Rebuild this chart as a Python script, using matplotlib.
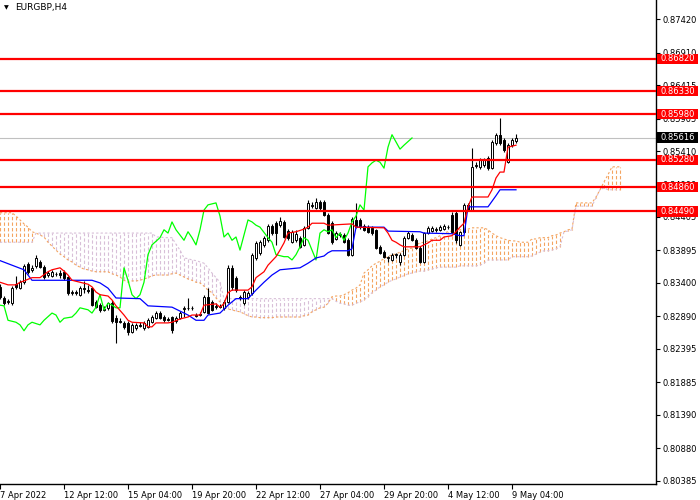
import matplotlib
matplotlib.use("Agg")
import matplotlib.pyplot as plt
from matplotlib.patches import Rectangle
from matplotlib.transforms import blended_transform_factory
import numpy as np

# ---------------- data (EURGBP, H4) ----------------
opens = [0.8334,0.8317,0.8311,0.8309,0.8338,0.8332,0.8341,0.8369,0.8360,0.8366,
         0.8372,0.8364,0.8352,0.8351,0.8354,0.8355,0.8357,0.8349,0.8325,0.8326,
         0.8322,0.8332,0.8329,0.8332,0.8311,0.8306,0.8299,0.8302,0.8309,0.8287,
         0.8282,0.8279,0.8279,0.8265,0.8271,0.8276,0.8271,0.8273,0.8280,0.8287,
         0.8294,0.8288,0.8285,0.8288,0.8282,0.8287,0.8300,0.8302,0.8302,0.8291,
         0.8291,0.8296,0.8319,0.8311,0.8303,0.8305,0.8302,0.8311,0.8363,0.8348,
         0.8319,0.8309,0.8319,0.8325,0.8378,0.8386,0.8398,0.8405,0.8427,0.8431,
         0.8428,0.8433,0.8419,0.8402,0.8405,0.8409,0.8398,0.8424,0.8457,0.8454,
         0.8463,0.8463,0.8444,0.8431,0.8407,0.8413,0.8413,0.8405,0.8383,0.8436,
         0.8436,0.8427,0.8425,0.8424,0.8421,0.8395,0.8387,0.8378,0.8375,0.8383,
         0.8372,0.8383,0.8409,0.8413,0.8405,0.8393,0.8372,0.8416,0.8419,0.8421,
         0.8421,0.8422,0.8425,0.8444,0.8447,0.8398,0.8418,0.8459,0.8451,0.8518,
         0.8517,0.8520,0.8531,0.8515,0.8553,0.8566,0.8558,0.8524,0.8550,0.8556]
highs = [0.8338,0.8320,0.8316,0.8335,0.8351,0.8344,0.8369,0.8372,0.8367,0.8383,
         0.8375,0.8367,0.8358,0.8360,0.8357,0.8360,0.8360,0.8351,0.8329,0.8329,
         0.8335,0.8343,0.8337,0.8334,0.8314,0.8309,0.8305,0.8311,0.8314,0.8291,
         0.8287,0.8282,0.8282,0.8279,0.8279,0.8280,0.8282,0.8287,0.8291,0.8297,
         0.8297,0.8291,0.8288,0.8290,0.8290,0.8297,0.8305,0.8317,0.8305,0.8294,
         0.8296,0.8322,0.8332,0.8314,0.8309,0.8308,0.8314,0.8367,0.8367,0.8351,
         0.8322,0.8329,0.8328,0.8386,0.8404,0.8405,0.8412,0.8430,0.8430,0.8434,
         0.8441,0.8436,0.8422,0.8421,0.8421,0.8412,0.8427,0.8466,0.8463,0.8469,
         0.8466,0.8466,0.8447,0.8434,0.8419,0.8418,0.8416,0.8409,0.8441,0.8462,
         0.8439,0.8430,0.8428,0.8427,0.8422,0.8398,0.8390,0.8381,0.8386,0.8386,
         0.8386,0.8412,0.8419,0.8416,0.8409,0.8396,0.8418,0.8427,0.8427,0.8425,
         0.8428,0.8430,0.8428,0.8448,0.8450,0.8419,0.8462,0.8462,0.8546,0.8524,
         0.8531,0.8531,0.8534,0.8558,0.8569,0.8591,0.8561,0.8553,0.8561,0.8567]
lows = [0.8316,0.8306,0.8308,0.8306,0.8331,0.8331,0.8338,0.8354,0.8357,0.8363,
        0.8363,0.8346,0.8349,0.8349,0.8351,0.8348,0.8344,0.8322,0.8322,0.8322,
        0.8320,0.8325,0.8325,0.8305,0.8302,0.8296,0.8297,0.8299,0.8279,0.8249,
        0.8279,0.8270,0.8261,0.8264,0.8268,0.8273,0.8268,0.8271,0.8279,0.8285,
        0.8285,0.8280,0.8282,0.8264,0.8279,0.8285,0.8288,0.8299,0.8299,0.8288,
        0.8290,0.8294,0.8293,0.8297,0.8300,0.8302,0.8299,0.8309,0.8329,0.8326,
        0.8314,0.8306,0.8316,0.8322,0.8375,0.8383,0.8395,0.8402,0.8413,0.8398,
        0.8425,0.8409,0.8405,0.8401,0.8402,0.8393,0.8396,0.8422,0.8454,0.8453,
        0.8451,0.8442,0.8415,0.8399,0.8405,0.8410,0.8401,0.8381,0.8381,0.8424,
        0.8422,0.8419,0.8416,0.8413,0.8392,0.8384,0.8378,0.8372,0.8374,0.8378,
        0.8367,0.8381,0.8407,0.8404,0.8392,0.8370,0.8370,0.8415,0.8418,0.8418,
        0.8419,0.8421,0.8422,0.8416,0.8401,0.8396,0.8416,0.8450,0.8450,0.8515,
        0.8514,0.8517,0.8512,0.8514,0.8550,0.8550,0.8540,0.8523,0.8547,0.8553]
closes = [0.8319,0.8309,0.8312,0.8332,0.8334,0.8341,0.8366,0.8357,0.8363,0.8378,
          0.8364,0.8349,0.8355,0.8357,0.8353,0.8352,0.8348,0.8325,0.8326,0.8325,
          0.8332,0.8331,0.8328,0.8306,0.8303,0.8299,0.8300,0.8309,0.8282,0.8280,
          0.8281,0.8273,0.8265,0.8276,0.8276,0.8275,0.8279,0.8283,0.8288,0.8294,
          0.8287,0.8283,0.8284,0.8268,0.8287,0.8294,0.8302,0.8301,0.8301,0.8290,
          0.8293,0.8319,0.8294,0.8299,0.8305,0.8304,0.8311,0.8363,0.8334,0.8329,
          0.8317,0.8326,0.8325,0.8383,0.8401,0.8402,0.8409,0.8427,0.8416,0.8416,
          0.8434,0.8410,0.8409,0.8418,0.8415,0.8395,0.8424,0.8462,0.8459,0.8463,
          0.8454,0.8444,0.8416,0.8402,0.8416,0.8415,0.8402,0.8383,0.8438,0.8425,
          0.8425,0.8421,0.8418,0.8416,0.8393,0.8386,0.8380,0.8379,0.8383,0.8384,
          0.8383,0.8409,0.8416,0.8405,0.8393,0.8372,0.8416,0.8424,0.8424,0.8422,
          0.8425,0.8427,0.8426,0.8418,0.8405,0.8418,0.8459,0.8451,0.8517,0.8520,
          0.8527,0.8527,0.8515,0.8555,0.8566,0.8553,0.8543,0.8550,0.8558,0.85616]

# Tenkan-sen (red) read at its turning points: bar index, price
tenkan_bar = [0,2,4,5,6,8,10,12,13,15,16,17,18,20,22,23,24,25,27,28,
              29,31,32,33,36,37,38,39,42,43,45,47,48,50,51,54,55,56,57,58,
              62,63,64,66,67,69,70,71,72,74,76,77,78,81,82,88,89,96,97,98,
              99,100,101,105,107,108,110,111,113,114,115,116,117,118,122,123,124,125,126,127,129]
tenkan_val = [0.8341,0.8337,0.8337,0.8341,0.8343,0.8348,0.8348,0.8357,0.8360,0.8363,
              0.8358,0.8352,0.8344,0.8341,0.8338,0.8334,0.8326,0.8322,0.8320,0.8314,
              0.8305,0.8291,0.8283,0.8280,0.8279,0.8273,0.8273,0.8279,0.8279,0.8280,
              0.8285,0.8288,0.8291,0.8291,0.8306,0.8308,0.8303,0.8308,0.8325,0.8329,
              0.8329,0.8334,0.8348,0.8357,0.8367,0.8380,0.8390,0.8401,0.8416,0.8418,
              0.8422,0.8425,0.8431,0.8431,0.8428,0.8430,0.8425,0.8424,0.8416,0.8405,
              0.8402,0.8398,0.8395,0.8395,0.8401,0.8405,0.8405,0.8410,0.8412,0.8418,
              0.8425,0.8431,0.8456,0.8471,0.8471,0.8482,0.8500,0.8509,0.8509,0.8547,0.8550]

# Kijun-sen (blue)
kijun_bar = [0,3,6,8,23,25,27,29,35,37,43,45,47,49,51,52,55,57,59,62,
             64,66,68,70,75,77,79,81,82,83,87,88,89,96,97,105,106,113,115,116,
             117,122,124,125,129]
kijun_val = [0.8374,0.8367,0.8360,0.8344,0.8344,0.8340,0.8332,0.8317,0.8316,0.8305,
             0.8303,0.8297,0.8291,0.8283,0.8283,0.8291,0.8294,0.8306,0.8316,0.8316,
             0.8329,0.8341,0.8352,0.8360,0.8363,0.8370,0.8378,0.8381,0.8386,0.8389,
             0.8389,0.8392,0.8425,0.8425,0.8419,0.8418,0.8416,0.8415,0.8412,0.8412,
             0.8456,0.8456,0.8473,0.8482,0.8482]

# Chikou span (green)
chikou_bar = [0,1,2,4,5,6,7,8,10,11,13,14,15,16,18,19,20,22,23,24,
              25,26,27,28,29,30,31,32,33,34,35,36,37,38,40,41,42,43,44,46,
              47,48,49,50,51,52,54,55,56,57,58,59,60,62,63,64,65,67,68,69,
              71,72,73,74,75,76,77,78,79,80,81,82,83,84,85,86,87,88,89,90,
              91,92,93,94,95,96,97,98,99,100,101,103]
chikou_val = [0.8306,0.8305,0.8283,0.8280,0.8276,0.8267,0.8276,0.8280,0.8276,0.8283,
              0.8294,0.8291,0.8280,0.8286,0.8288,0.8294,0.8302,0.8299,0.8294,0.8303,
              0.8322,0.8299,0.8309,0.8306,0.8302,0.8302,0.8363,0.8344,0.8322,0.8316,
              0.8322,0.8341,0.8383,0.8398,0.8409,0.8421,0.8416,0.8433,0.8421,0.8405,
              0.8418,0.8409,0.8398,0.8421,0.8451,0.8459,0.8462,0.8442,0.8410,0.8416,
              0.8405,0.8410,0.8390,0.8436,0.8433,0.8428,0.8425,0.8409,0.8402,0.8383,
              0.8380,0.8380,0.8375,0.8383,0.8395,0.8409,0.8405,0.8390,0.8375,0.8416,
              0.8421,0.8418,0.8421,0.8409,0.8416,0.8405,0.8416,0.8433,0.8442,0.8459,
              0.8451,0.8517,0.8523,0.8527,0.8524,0.8515,0.8547,0.8566,0.8555,0.8544,
              0.8550,0.8561]

# Senkou span A / B (one value per bar, 26 bars beyond the last candle)
span_a = [0.8447,0.8447,0.8447,0.8447,0.8442,0.8436,0.8430,0.8425,0.8418,0.8416,
          0.8413,0.8410,0.8402,0.8396,0.8390,0.8384,0.8380,0.8375,0.8372,0.8367,
          0.8364,0.8361,0.8360,0.8358,0.8357,0.8357,0.8357,0.8357,0.8354,0.8352,
          0.8349,0.8344,0.8341,0.8343,0.8343,0.8344,0.8346,0.8348,0.8351,0.8352,
          0.8352,0.8352,0.8352,0.8354,0.8355,0.8352,0.8349,0.8346,0.8344,0.8341,
          0.8340,0.8335,0.8329,0.8325,0.8317,0.8311,0.8305,0.8300,0.8299,0.8297,
          0.8296,0.8293,0.8290,0.8288,0.8288,0.8287,0.8287,0.8287,0.8287,0.8288,
          0.8288,0.8288,0.8288,0.8288,0.8288,0.8288,0.8290,0.8291,0.8296,0.8299,
          0.8302,0.8303,0.8309,0.8319,0.8320,0.8320,0.8322,0.8325,0.8329,0.8332,
          0.8337,0.8355,0.8360,0.8366,0.8370,0.8373,0.8377,0.8380,0.8383,0.8384,
          0.8387,0.8389,0.8392,0.8393,0.8398,0.8401,0.8402,0.8404,0.8407,0.8409,
          0.8412,0.8416,0.8418,0.8419,0.8419,0.8421,0.8422,0.8422,0.8424,0.8424,
          0.8424,0.8424,0.8421,0.8416,0.8412,0.8409,0.8407,0.8405,0.8404,0.8404,
          0.8402,0.8402,0.8402,0.8407,0.8407,0.8409,0.8409,0.8409,0.8412,0.8413,
          0.8416,0.8418,0.8421,0.8422,0.8462,0.8462,0.8462,0.8462,0.8462,0.8471,
          0.8482,0.8494,0.8505,0.8517,0.8517,0.8517]
span_b = [0.8402,0.8402,0.8402,0.8402,0.8402,0.8402,0.8402,0.8402,0.8402,0.8416,
          0.8416,0.8416,0.8416,0.8416,0.8416,0.8416,0.8416,0.8416,0.8416,0.8416,
          0.8416,0.8416,0.8416,0.8416,0.8416,0.8416,0.8416,0.8416,0.8416,0.8416,
          0.8416,0.8416,0.8416,0.8416,0.8416,0.8416,0.8416,0.8416,0.8416,0.8410,
          0.8410,0.8409,0.8409,0.8409,0.8399,0.8390,0.8378,0.8377,0.8375,0.8374,
          0.8372,0.8370,0.8363,0.8355,0.8348,0.8341,0.8316,0.8316,0.8316,0.8316,
          0.8316,0.8316,0.8316,0.8316,0.8316,0.8316,0.8316,0.8316,0.8316,0.8316,
          0.8316,0.8316,0.8316,0.8316,0.8316,0.8316,0.8316,0.8316,0.8316,0.8316,
          0.8316,0.8316,0.8316,0.8316,0.8312,0.8309,0.8308,0.8306,0.8306,0.8309,
          0.8311,0.8314,0.8319,0.8325,0.8329,0.8334,0.8337,0.8341,0.8344,0.8346,
          0.8349,0.8351,0.8354,0.8355,0.8357,0.8358,0.8358,0.8360,0.8361,0.8363,
          0.8364,0.8364,0.8364,0.8364,0.8364,0.8366,0.8366,0.8366,0.8366,0.8366,
          0.8367,0.8370,0.8375,0.8375,0.8375,0.8375,0.8375,0.8375,0.8380,0.8380,
          0.8380,0.8380,0.8380,0.8381,0.8384,0.8387,0.8389,0.8389,0.8390,0.8392,
          0.8395,0.8418,0.8419,0.8421,0.8457,0.8457,0.8457,0.8457,0.8457,0.8470,
          0.8482,0.8485,0.8482,0.8482,0.8482,0.8482]

levels = [0.86820, 0.86330, 0.85980, 0.85280, 0.84860, 0.84490]
last_price = 0.85616

y_ticks = [0.87420, 0.86910, 0.86415, 0.85905, 0.85410, 0.84900, 0.84405,
           0.83895, 0.83400, 0.82890, 0.82395, 0.81885, 0.81390, 0.80880, 0.80385]
x_tick_bars = [0, 16, 32, 48, 64, 80, 96, 112, 128]
x_tick_labels = ["7 Apr 2022", "12 Apr 12:00", "15 Apr 04:00", "19 Apr 20:00",
                 "22 Apr 12:00", "27 Apr 04:00", "29 Apr 20:00", "4 May 12:00",
                 "9 May 04:00"]
title = "EURGBP,H4"

# ---------------- figure ----------------
SANDY = "#F4A460"
THISTLE = "#D8BFD8"

fig = plt.figure(figsize=(7, 5), dpi=100)
ax = fig.add_axes([0.0, 16.5 / 500, 656 / 700, 483.5 / 500])
ax.set_xlim(0, 164)
ax.set_ylim(0.80341, 0.87714)

# Kumo: dashed vertical histogram between the spans
sa = np.array(span_a)
sb = np.array(span_b)
cb = np.arange(len(sa))
cols = [SANDY if a_ >= b_ else THISTLE for a_, b_ in zip(sa, sb)]
ax.vlines(cb, np.minimum(sa, sb), np.maximum(sa, sb), colors=cols,
          linestyles=(0, (3, 2)), linewidth=0.8, zorder=1)
ax.plot(cb, sa, color=SANDY, ls=(0, (2, 2)), lw=0.8, zorder=1.2)
ax.plot(cb, sb, color=THISTLE, ls=(0, (2, 2)), lw=0.8, zorder=1.2)

# last price line
ax.axhline(last_price, color="#C0C0C0", lw=0.8, zorder=0.9)

# candles
for i, (o, h, l, c) in enumerate(zip(opens, highs, lows, closes)):
    ax.vlines(i, l, h, color="black", lw=0.8, zorder=3)
    fc = "white" if c >= o else "black"
    ax.add_patch(Rectangle((i - 0.25, min(o, c)), 0.5, abs(c - o),
                           fc=fc, ec="black", lw=0.7, zorder=3.1))

# Ichimoku lines
ax.plot(chikou_bar, chikou_val, color="#00FF00", lw=0.9, zorder=4)
ax.plot(kijun_bar, kijun_val, color="#0000FF", lw=0.9, zorder=4)
ax.plot(tenkan_bar, tenkan_val, color="#FF0000", lw=0.9, zorder=4)

# horizontal levels
for lv in levels:
    ax.axhline(lv, color="#FF0000", lw=1.6, zorder=5)

# axes styling
for s in ("left", "top"):
    ax.spines[s].set_visible(False)
for s in ("right", "bottom"):
    ax.spines[s].set_color("black")
    ax.spines[s].set_linewidth(1.0)

ax.yaxis.tick_right()
ax.set_yticks(y_ticks)
ax.set_yticklabels([f"{v:.5f}" for v in y_ticks])
ax.tick_params(axis="y", direction="out", length=3, width=0.8, pad=1.5,
               labelsize=6, colors="black")
ax.set_xticks(x_tick_bars)
ax.set_xticklabels(x_tick_labels)
ax.tick_params(axis="x", direction="out", length=3.5, width=0.8, pad=2,
               labelsize=6, colors="black")
for lbl in ax.get_xticklabels():
    lbl.set_ha("left")

# price labels on the right
tr = blended_transform_factory(ax.transAxes, ax.transData)
box_h = 0.00155
box_w = 0.0625
x0 = 1.0015
for lv in levels:
    ax.add_patch(Rectangle((x0, lv - box_h / 2), box_w, box_h, transform=tr,
                           fc="#FF0000", ec="none", clip_on=False, zorder=10))
    ax.text(x0 + box_w / 2, lv - 0.00005, f"{lv:.5f}", transform=tr, ha="center",
            va="center", color="white", fontsize=6, zorder=11, clip_on=False)
ax.add_patch(Rectangle((x0, last_price - box_h / 2), box_w, box_h, transform=tr,
                       fc="black", ec="none", clip_on=False, zorder=10))
ax.text(x0 + box_w / 2, last_price - 0.00005, f"{last_price:.5f}", transform=tr,
        ha="center", va="center", color="white", fontsize=6, zorder=11, clip_on=False)

# title
fig.text(4 / 700, 1 - 7.5 / 500, "\u25BC", fontsize=4.5, va="center", ha="left")
fig.text(15 / 700, 1 - 7.5 / 500, title, fontsize=6.5, va="center", ha="left")

fig.savefig("out.png", dpi=100)
